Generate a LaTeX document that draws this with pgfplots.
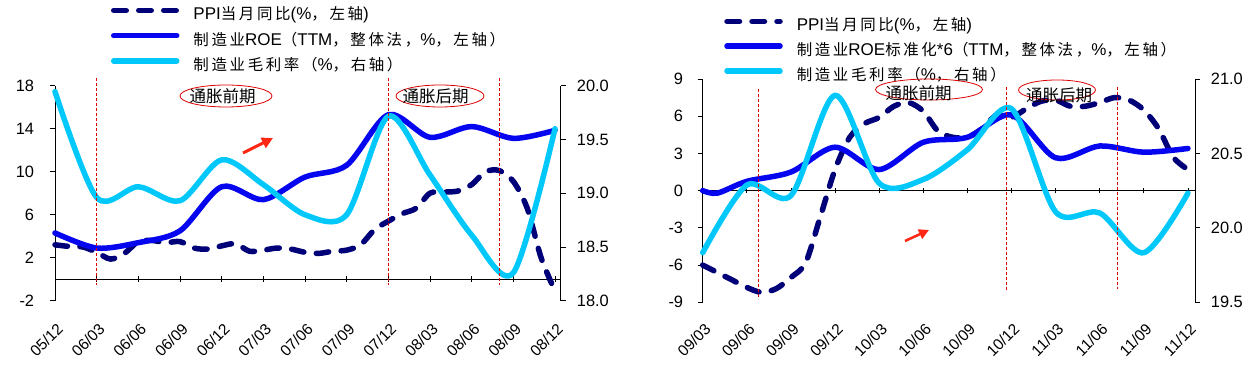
\documentclass[border=0pt]{standalone}
\usepackage{fontspec}
\setmainfont{Liberation Sans}
\newfontfamily\cjk{Noto Sans CJK SC}[Scale=0.91,LetterSpace=17]
\newfontfamily\cjkp{Noto Sans CJK SC}
\usepackage{pgfplots}
\pgfplotsset{compat=1.18}
\usetikzlibrary{arrows.meta}
\newcommand{\zh}[1]{{\cjk #1}}
\newcommand{\legfont}{\fontsize{17}{20}\selectfont}
\newcommand{\tickfont}{\fontsize{16.4}{19}\selectfont}
\newcommand{\xtickfont}{\fontsize{15.5}{18}\selectfont}
\definecolor{ppi}{RGB}{0,0,120}
\definecolor{roe}{RGB}{5,5,240}
\definecolor{gm}{RGB}{0,200,250}
\definecolor{redl}{RGB}{220,0,0}
\definecolor{arr}{RGB}{255,40,20}
\tikzset{
  ppil/.style={color=ppi, line width=5.5pt, dash pattern=on 12.5pt off 12.5pt, line cap=round},
  roel/.style={color=roe, line width=5.5pt, line cap=round},
  gml/.style={color=gm, line width=5.5pt, line cap=round},
  redv/.style={redl, line width=0.9pt, dash pattern=on 3pt off 2pt},
}
\pgfplotsset{
  base/.style={scale only axis, anchor=south west, clip=false,
    tick align=outside, major tick length=5pt,
    every tick/.style={black, line width=0.8pt},
    ticklabel style={font=\tickfont}},
  leg/.style={legend style={draw=none, fill=none, inner sep=0pt, outer sep=0pt,
      column sep=14pt, row sep=10pt, font=\legfont,
      nodes={inner sep=0pt, text height=11pt, text depth=3pt}},
    legend cell align=left},
}
\begin{document}
\begin{tikzpicture}
\useasboundingbox (0,0) rectangle (1256pt,374pt);
\fill[white] (0,0) rectangle (1256pt,374pt);

% ================= LEFT CHART =================
\begin{axis}[base, at={(55pt,73.3pt)}, width=505.7pt, height=215pt,
  xmin=0, xmax=36.41, ymin=-2, ymax=18,
  axis x line=middle, axis y line=none,
  x axis line style={-, black, line width=0.8pt},
  xtick={0,3,...,36}, xticklabels={}, major tick length=5.5pt]
\end{axis}

\begin{axis}[base, at={(55pt,73.3pt)}, width=505.7pt, height=215pt,
  xmin=0, xmax=36.41, ymin=-2, ymax=18,
  axis y line*=left, axis x line*=bottom,
  y axis line style={black, line width=0.8pt},
  x axis line style={draw=none},
  xtick={0,3,...,36},
  xticklabels={05/12,06/03,06/06,06/09,06/12,07/03,07/06,07/09,07/12,08/03,08/06,08/09,08/12},
  xtick style={draw=none},
  xticklabel style={font=\xtickfont, xshift=1pt, yshift=-16pt, rotate=45, anchor=north east, inner sep=0pt},
  ytick={-2,2,6,10,14,18}, yticklabels={-2,2,6,10,14,18},
  yticklabel style={inner sep=0pt, xshift=-15.7pt}]
\addplot[ppil, smooth, tension=0.5] coordinates {
(0,3.2)(1,3.05)(2,3.0)(3,2.5)(4,1.87)(5,2.4)(6,3.5)(7,3.6)(8,3.4)(9,3.5)(10,2.9)(11,2.8)
(12,3.1)(13,3.3)(14,2.6)(15,2.7)(16,2.9)(17,2.8)(18,2.5)(19,2.4)(20,2.6)(21,2.7)(22,3.2)(23,4.6)
(24,5.4)(25,6.1)(26,6.6)(27,8.0)(28,8.1)(29,8.2)(30,8.8)(31,10.0)(32,10.1)(33,9.1)(34,6.6)(35,2.0)(36,-1.1)};
\addplot[roel, smooth] coordinates {
(0,4.3)(3,2.9)(6,3.4)(9,4.5)(12,8.6)(15,7.4)(18,9.5)(21,10.6)(24,15.3)(27,13.2)(30,14.2)(33,13.1)(36,13.85)};
\end{axis}

\begin{axis}[base, leg, at={(55pt,73.3pt)}, width=505.7pt, height=215pt,
  xmin=0, xmax=36.41, ymin=18, ymax=20,
  axis y line*=right, axis x line=none,
  y axis line style={black, line width=0.8pt},
  ytick={18,18.5,19,19.5,20}, yticklabels={18.0,18.5,19.0,19.5,20.0},
  yticklabel style={inner sep=0pt, xshift=11pt},
  legend style={at={(axis description cs:0.1107,1.363)}, anchor=north west},
  legend image code/.code={\draw[#1] (0pt,5.5pt) -- (63pt,5.5pt);}]
\addlegendimage{ppil}
\addlegendentry{PPI\zh{当月同比}(\%\zh{，左轴})}
\addlegendimage{roel}
\addlegendentry{\zh{制造业}ROE\zh{（}TTM\zh{，整体法，}\%\zh{，左轴）}}
\addplot[gml, smooth] coordinates {
(0,19.945)(3,18.96)(6,19.06)(9,18.93)(12,19.31)(15,19.08)(18,18.80)(21,18.80)(24,19.715)(27,19.17)(30,18.61)(33,18.26)(36,19.6)};
\addlegendentry{\zh{制造业毛利率（}\%\zh{，右轴）}}
\end{axis}

% ================= RIGHT CHART =================
\begin{axis}[base, at={(702.7pt,71.7pt)}, width=492.3pt, height=223.3pt,
  xmin=0, xmax=33.48, ymin=-9, ymax=9,
  axis x line=middle, axis y line=none,
  x axis line style={-, black, line width=0.8pt},
  xtick={0,3,...,33}, xticklabels={}, major tick length=5.5pt]
\end{axis}

\begin{axis}[base, at={(702.7pt,71.7pt)}, width=492.3pt, height=223.3pt,
  xmin=0, xmax=33.48, ymin=-9, ymax=9,
  axis y line*=left, axis x line*=bottom,
  y axis line style={black, line width=0.8pt},
  x axis line style={draw=none},
  xtick={0,3,...,33},
  xticklabels={09/03,09/06,09/09,09/12,10/03,10/06,10/09,10/12,11/03,11/06,11/09,11/12},
  xtick style={draw=none},
  xticklabel style={font=\xtickfont, xshift=1pt, yshift=-15pt, rotate=45, anchor=north east, inner sep=0pt},
  ytick={-9,-6,-3,0,3,6,9}, yticklabels={-9,-6,-3,0,3,6,9},
  yticklabel style={inner sep=0pt, xshift=-14.4pt}]
\addplot[ppil, smooth, tension=0.5] coordinates {
(0,-6.0)(1,-6.6)(2,-7.2)(3,-7.8)(4,-8.2)(5,-7.9)(6,-7.0)(7,-5.8)(8,-2.1)(9,1.7)(10,4.3)(11,5.4)
(12,5.9)(13,6.8)(14,7.1)(15,6.4)(16,4.8)(17,4.3)(18,4.3)(19,5.0)(20,6.1)(21,5.9)(22,6.6)(23,7.2)
(24,7.3)(25,6.8)(26,6.8)(27,7.1)(28,7.5)(29,7.3)(30,6.5)(31,5.0)(32,2.7)(33,1.7)};
\addplot[roel, smooth] coordinates {
(0,0)(1,-0.2)(3,0.75)(6,1.5)(9,3.5)(12,1.7)(15,3.9)(18,4.3)(21,6.1)(24,2.65)(27,3.6)(30,3.1)(33,3.4)};
\end{axis}

\begin{axis}[base, leg, at={(702.7pt,71.7pt)}, width=492.3pt, height=223.3pt,
  xmin=0, xmax=33.48, ymin=19.5, ymax=21,
  axis y line*=right, axis x line=none,
  y axis line style={black, line width=0.8pt},
  ytick={19.5,20,20.5,21}, yticklabels={19.5,20.0,20.5,21.0},
  yticklabel style={inner sep=0pt, xshift=10.7pt},
  legend style={at={(axis description cs:0.0438,1.270)}, anchor=north west, row sep=9.5pt},
  legend image code/.code={\draw[#1] (0pt,5.5pt) -- (53pt,5.5pt);}]
\addlegendimage{ppil}
\addlegendentry{PPI\zh{当月同比}(\%\zh{，左轴})}
\addlegendimage{roel}
\addlegendentry{\zh{制造业}ROE\zh{标准化}*6\zh{（}TTM\zh{，整体法，}\%\zh{，左轴）}}
\addplot[gml, smooth] coordinates {
(0,19.833)(3,20.2875)(6,20.217)(9,20.89)(12,20.30)(15,20.325)(18,20.525)(21,20.80)(24,20.108)(27,20.10)(30,19.833)(33,20.233)};
\addlegendentry{\zh{制造业毛利率（}\%\zh{，右轴）}}
\end{axis}

% ================= annotations =================
\draw[redv] (96.7pt,296pt) -- (96.7pt,89pt);
\draw[redv] (388.3pt,296pt) -- (388.3pt,89pt);
\draw[redv] (499.4pt,296pt) -- (499.4pt,89pt);
\draw[redv] (758.4pt,285pt) -- (758.4pt,75pt);
\draw[redv] (1006.6pt,287pt) -- (1006.6pt,82pt);
\draw[redv] (1117.6pt,287pt) -- (1117.6pt,85pt);
\draw[redl, line width=0.8pt] (226pt,278pt) ellipse (46pt and 11pt);
\node[font=\fontsize{16.5}{18}\cjkp] at (222.5pt,277.3pt) {通胀前期};
\draw[redl, line width=0.8pt] (440pt,278pt) ellipse (44pt and 11pt);
\node[font=\fontsize{16.5}{18}\cjkp] at (435.5pt,277.3pt) {通胀后期};
\draw[redl, line width=0.8pt] (929pt,284.5pt) ellipse (53.5pt and 10.5pt);
\node[font=\fontsize{16.5}{18}\cjkp] at (918.5pt,281pt) {通胀前期};
\draw[redl, line width=0.8pt] (1057pt,284pt) ellipse (38.5pt and 10pt);
\node[font=\fontsize{16.5}{18}\cjkp] at (1059pt,279pt) {通胀后期};
\draw[arr, line width=3pt, -{Triangle[length=11pt,width=11pt]}] (243pt,221pt) -- (273pt,236pt);
\draw[arr, line width=2.5pt, -{Triangle[length=10pt,width=10pt]}] (905pt,133pt) -- (929pt,144pt);
\end{tikzpicture}
\end{document}
